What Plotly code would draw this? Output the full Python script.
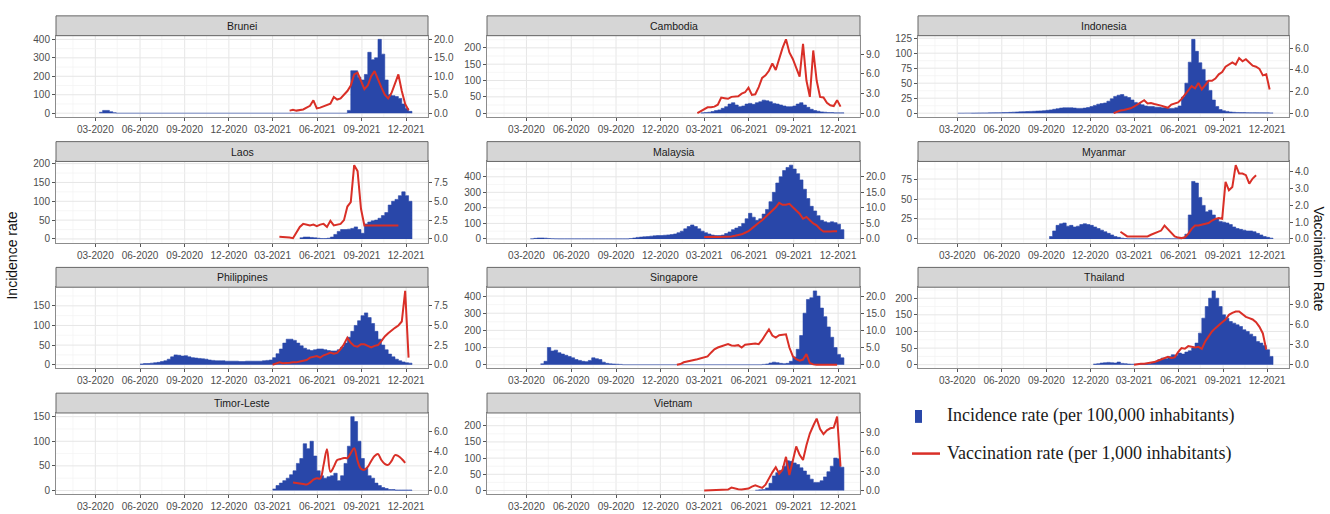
import pandas as pd
import plotly.graph_objects as go

countries = ["Brunei", "Cambodia", "Indonesia", "Laos", "Malaysia", "Myanmar",
             "Philippines", "Singapore", "Thailand", "Timor-Leste", "Vietnam"]

# ---------------- Incidence rate (per 100,000), weekly values ----------------
brunei_inc1_start = "2020-03-09"
brunei_inc1 = [5, 15, 15, 8, 3]
brunei_inc2_start = "2021-08-02"
brunei_inc2 = [15, 230, 230, 195, 180, 210, 330, 290, 300, 400, 320, 180, 100,
               95, 90, 80, 50, 25, 10]

cambodia_inc_start = "2021-02-22"
cambodia_inc = [1, 2, 3, 5, 8, 10, 15, 20, 28, 32, 25, 20, 22, 28, 30, 27, 32, 35, 40,
                38, 35, 30, 28, 25, 22, 20, 20, 22, 28, 32, 25, 18, 12, 8, 6, 4,
                3, 2, 2, 1, 1, 1]

indonesia_inc_start = "2020-03-02"
indonesia_inc = [0, 0, 0.1, 0.1, 0.2, 0.3, 0.4, 0.5, 0.5, 0.6, 0.7, 0.8, 0.9,
                 1, 1.2, 1.4, 1.7, 2, 2.2, 2.5, 2.8, 3, 3.2, 3.5, 3.8, 4.2, 4.8,
                 5.5, 6.5, 7.5, 8.5, 9, 9, 9, 8.5, 8, 8, 8.5, 9.5, 11, 13, 15, 16, 17,
                 20, 24, 28, 30, 31, 28, 26, 22, 18, 16, 14, 12, 11, 11, 10, 10, 9,
                 9, 8, 8, 9, 12, 27, 50, 85, 123, 103, 84, 73, 54, 38, 22, 11, 6, 4,
                 3, 2, 1.5, 1.2, 1, 1, 0.9, 0.8, 0.8, 0.7, 0.7, 0.6, 0.6, 0.5]

laos_inc_start = "2021-04-26"
laos_inc = [3, 5, 5, 4, 3, 2, 1, 1, 2, 5, 12, 20, 25, 25, 26, 28, 32, 25, 15,
            40, 45, 48, 50, 55, 62, 70, 90, 100, 105, 115, 125, 115, 100]

malaysia_inc_start = "2020-03-09"
malaysia_inc = [1, 4, 6, 6, 5, 3, 2, 1,
                0.5, 0.5, 0.5, 0.5, 0.5, 0.5, 0.5, 0.5, 0.5, 0.5, 0.5, 0.5, 0.5,
                0.5, 0.5, 0.5, 0.5, 0.5, 0.5, 0.5, 0.5,
                3, 6, 10, 12, 14, 15, 18, 20, 22, 22, 24, 26, 28, 32,
                40, 50, 65, 80, 90, 80, 65, 50, 40, 32, 25, 22, 22,
                25, 35, 45, 60, 70, 80, 100, 130, 165, 140, 120, 130, 160,
                190, 240, 300, 360, 400, 440, 460, 475, 450, 420, 380, 320, 260,
                210, 180, 150, 120, 110, 105, 110, 105, 95, 60]

myanmar_inc_start = "2020-09-07"
myanmar_inc = [3, 10, 17, 19, 20, 16, 17, 15, 16, 18, 19, 18, 17, 15, 13, 11, 9,
               7, 5, 3, 2, 1, 0.5, 0.3, 0.3,
               0.3, 0.3, 0.3, 0.3, 0.3, 0.3, 0.3, 0.3, 0.3, 0.3, 0.3, 0.3, 0.3, 0.3,
               2, 6, 30, 72, 70, 52, 42, 34, 36, 30, 25, 22, 21, 20, 18, 15, 13,
               12, 11, 10, 10, 9, 7, 5, 3, 2, 1]

philippines_inc_start = "2020-06-01"
philippines_inc = [2, 3, 3, 4, 5, 6, 8, 10, 14, 20, 25, 24, 22, 23, 20, 18, 17, 16,
                   15, 14, 12, 11, 10, 10, 10, 9, 9, 9, 9, 8, 8, 9, 9, 9, 9,
                   9, 10, 11, 12, 18, 28, 40, 55, 65, 65, 62, 55, 48,
                   42, 38, 36, 38, 40, 40, 38, 36, 35, 35, 38, 45, 55,
                   70, 85, 100, 112, 125, 132, 120, 105, 85, 65, 50, 38, 27,
                   20, 14, 10, 7, 5, 4]

singapore_inc1_start = "2020-03-30"
singapore_inc1 = [5, 20, 100, 80, 85, 70, 62, 55, 48, 40, 30, 25, 20, 18, 25, 40,
                  35, 30, 15, 8, 5, 4, 3, 2]
singapore_inc2_start = "2021-06-28"
singapore_inc2 = [2, 4, 10, 15, 12, 8, 6, 8, 20, 45, 90, 170, 300, 380, 390, 430,
                  400, 330, 280, 220, 160, 100, 60, 40]

thailand_inc_start = "2020-12-07"
thailand_inc = [2, 3, 5, 6, 7, 6, 5, 8, 4, 3, 2, 1.5, 1.5, 2, 2, 2, 3,
                5, 10, 15, 20, 18, 25, 30, 28, 35, 32, 38, 42, 50,
                65, 95, 140, 175, 200, 222, 200, 175, 150, 140, 130, 125, 120,
                115, 105, 100, 92, 85, 70, 65, 58, 45, 25]

timor_inc_start = "2021-03-01"
timor_inc = [3, 10, 15, 20, 25, 32, 40, 55, 65, 95, 85, 100, 70, 40,
             30, 25, 28, 30, 35, 20, 30, 55, 90, 150, 140, 100, 65,
             45, 30, 25, 15, 10, 6, 4, 2, 2, 1, 1, 1, 1, 1]

vietnam_inc_start = "2021-06-14"
vietnam_inc = [1, 2, 3, 8, 22, 45, 55, 62, 75, 92, 90, 85, 80, 70, 60, 48,
               35, 25, 25, 30, 42, 58, 75, 100, 98, 72]

# ---------------- Vaccination rate (per 1,000), weekly values ----------------
brunei_vacc_start = "2021-04-05"
brunei_vacc = [0.7, 0.9, 0.7, 0.9, 1.0, 1.5, 2.0, 3.5, 1.3, 1.5, 1.9, 2.3, 2.6,
               4.4, 3.7, 4.0, 5.0, 6.0, 7.5, 10.5, 11.0, 8.5, 6.5, 7.5, 10.0, 11.4,
               9.0, 7.0, 5.0, 4.0, 5.5, 8.0, 10.5, 6.0, 2.5, 0.8]

cambodia_vacc_start = "2021-02-15"
cambodia_vacc = [0.0, 0.3, 0.7, 0.9, 0.9, 1.0, 1.3, 2.4, 2.3, 2.2, 2.5, 2.5, 2.6,
                 3.0, 3.2, 3.9, 2.8, 2.9, 4.0, 5.4, 5.8, 6.5, 7.6, 6.6, 8.5, 10.0,
                 11.3, 9.3, 8.3, 7.0, 5.6, 10.6, 5.0, 2.5, 9.6, 5.0, 2.5, 2.4, 1.6,
                 1.2, 1.1, 2.0, 1.0]

indonesia_vacc_start = "2021-01-18"
indonesia_vacc = [0.0, 0.15, 0.25, 0.3, 0.35, 0.45, 0.6, 0.8, 1.0, 1.2, 0.9, 0.95,
                  0.85, 0.8, 0.7, 0.6, 0.5, 0.8, 0.9, 1.0, 1.3, 1.7, 2.2, 2.5, 2.3,
                  2.8, 2.2, 2.6, 3.0, 3.0, 3.2, 3.6, 3.8, 4.3, 4.5, 4.7, 4.5, 5.1,
                  4.8, 5.0, 4.7, 4.4, 4.3, 4.1, 3.5, 3.6, 2.2]

laos_vacc_start = "2021-03-15"
laos_vacc = [0.3, 0.3, 0.3, 0.2, 0.1, 0.8, 1.6, 2.0, 1.9, 1.8, 1.9, 1.7, 1.9, 2.0,
             1.6, 2.4, 1.8, 1.9, 2.0, 2.5, 4.3, 4.9, 9.8, 9.0, 4.0, 1.8, 1.8, 1.8,
             1.8, 1.8, 1.8, 1.8, 1.8, 1.8, 1.8, 1.8]

malaysia_vacc_start = "2021-03-01"
malaysia_vacc = [0.6, 0.7, 0.7, 0.7, 0.6, 0.6, 0.6, 0.7, 0.8, 1.0, 1.2, 1.5, 2.0,
                 2.5, 3.4, 4.4, 5.2, 6.0, 7.0, 8.1, 9.0, 10.2, 11.6, 11.0, 11.0,
                 11.3, 10.2, 9.0, 8.1, 6.5, 7.1, 6.0, 5.0, 4.4, 3.2, 2.4, 2.3, 2.4,
                 2.5, 2.5]

myanmar_vacc_start = "2021-02-01"
myanmar_vacc = [0.43, 0.3, 0.15, 0.14, 0.14, 0.15, 0.15, 0.15, 0.15, 0.25, 0.35,
                0.4, 0.5, 0.8, 0.6, 0.35, 0.15, 0.08, 0.05, 0.1, 0.3, 0.6, 0.8,
                0.8, 0.85, 0.87, 0.95, 1.1, 1.2, 1.25, 1.2, 3.4, 2.9, 3.1, 4.4,
                3.9, 3.9, 3.8, 3.3, 3.6, 3.8]

philippines_vacc_start = "2021-03-01"
philippines_vacc = [0.0, 0.2, 0.3, 0.2, 0.2, 0.25, 0.3, 0.3, 0.4, 0.5, 0.6, 0.9,
                    1.0, 1.1, 0.9, 1.2, 1.35, 1.55, 1.4, 1.5, 2.0, 2.6, 3.45, 2.8,
                    2.4, 2.3, 2.6, 2.6, 2.4, 2.2, 2.4, 2.5, 3.0, 3.6, 4.0, 4.4, 4.7,
                    5.0, 5.5, 9.4, 0.9]

singapore_vacc_start = "2021-01-04"
singapore_vacc = [0.0, 0.2, 0.7, 1.0, 1.2, 1.4, 1.6, 1.8, 2.2, 2.4, 3.5, 4.5, 5.0,
                  5.3, 5.8, 6.0, 5.6, 5.5, 5.7, 5.0, 5.8, 6.0, 6.2, 6.2, 6.0, 7.2,
                  8.8, 10.3, 8.5, 7.9, 8.6, 8.8, 8.85, 5.0, 2.5, 1.6, 1.2, 1.5, 3.1,
                  0.5, 0.1, 0.0, 0.0, 0.0, 0.0, 0.0, 0.0, 0.0]

thailand_vacc_start = "2021-03-01"
thailand_vacc = [0.0, 0.1, 0.15, 0.15, 0.2, 0.3, 0.4, 0.6, 0.8, 1.0, 1.2, 1.0, 1.1,
                 1.9, 2.5, 2.4, 2.8, 2.7, 2.6, 2.7, 2.4, 3.5, 4.3, 5.0, 5.5, 6.0,
                 6.4, 6.8, 7.5, 7.8, 8.0, 8.0, 7.6, 7.2, 7.0, 6.8, 6.4, 5.7, 4.7, 2.3]

timor_vacc_start = "2021-04-12"
timor_vacc = [0.8, 0.75, 0.7, 0.65, 0.6, 0.8, 1.1, 1.25, 1.2, 2.6, 4.2, 1.9, 2.4,
              3.1, 3.2, 3.3, 3.3, 3.8, 4.3, 3.0, 2.2, 2.1, 2.4, 3.0, 3.5, 3.7, 3.1,
              2.7, 2.6, 3.0, 3.6, 3.5, 3.2, 2.8]

vietnam_vacc_start = "2021-03-01"
vietnam_vacc = [0.0, 0.02, 0.05, 0.05, 0.08, 0.1, 0.12, 0.15, 0.45, 0.3, 0.2, 0.15,
                0.2, 0.3, 0.6, 0.8, 0.6, 0.4, 0.9, 1.9, 2.8, 3.6, 2.6, 3.2, 5.2,
                2.4, 4.5, 6.8, 5.5, 4.7, 7.0, 8.8, 10.0, 11.1, 9.5, 8.7, 9.3, 9.6,
                9.7, 11.4, 3.7]

# ---------------- Axis ticks and secondary-axis scale ----------------
x_tick_dates = ["2020-03-01", "2020-06-01", "2020-09-01", "2020-12-01",
                "2021-03-01", "2021-06-01", "2021-09-01", "2021-12-01"]
x_minor_dates = ["2020-01-15", "2020-04-15", "2020-07-16", "2020-10-16",
                 "2021-01-15", "2021-04-15", "2021-07-16", "2021-10-16",
                 "2022-01-15"]
left_ticks = {
    "Brunei": [0, 100, 200, 300, 400], "Cambodia": [0, 50, 100, 150, 200],
    "Indonesia": [0, 25, 50, 75, 100, 125], "Laos": [0, 50, 100, 150, 200],
    "Malaysia": [0, 100, 200, 300, 400], "Myanmar": [0, 25, 50, 75],
    "Philippines": [0, 50, 100, 150], "Singapore": [0, 100, 200, 300, 400],
    "Thailand": [0, 50, 100, 150, 200], "Timor-Leste": [0, 50, 100, 150],
    "Vietnam": [0, 50, 100, 150, 200]}
right_ticks = {
    "Brunei": [0, 5, 10, 15, 20], "Cambodia": [0, 3, 6, 9],
    "Indonesia": [0, 2, 4, 6], "Laos": [0, 2.5, 5, 7.5],
    "Malaysia": [0, 5, 10, 15, 20], "Myanmar": [0, 1, 2, 3, 4],
    "Philippines": [0, 2.5, 5, 7.5], "Singapore": [0, 5, 10, 15, 20],
    "Thailand": [0, 3, 6, 9], "Timor-Leste": [0, 2, 4, 6],
    "Vietnam": [0, 3, 6, 9]}
sec_factor = {"Brunei": 20, "Cambodia": 20, "Indonesia": 18, "Laos": 20,
              "Malaysia": 20, "Myanmar": 21, "Philippines": 20, "Singapore": 20,
              "Thailand": 20, "Timor-Leste": 20, "Vietnam": 20}
line_shape = {"Timor-Leste": "spline"}

inc_segments = {
    "Brunei": [(brunei_inc1_start, brunei_inc1), (brunei_inc2_start, brunei_inc2)],
    "Cambodia": [(cambodia_inc_start, cambodia_inc)],
    "Indonesia": [(indonesia_inc_start, indonesia_inc)],
    "Laos": [(laos_inc_start, laos_inc)],
    "Malaysia": [(malaysia_inc_start, malaysia_inc)],
    "Myanmar": [(myanmar_inc_start, myanmar_inc)],
    "Philippines": [(philippines_inc_start, philippines_inc)],
    "Singapore": [(singapore_inc1_start, singapore_inc1), (singapore_inc2_start, singapore_inc2)],
    "Thailand": [(thailand_inc_start, thailand_inc)],
    "Timor-Leste": [(timor_inc_start, timor_inc)],
    "Vietnam": [(vietnam_inc_start, vietnam_inc)],
}
vacc_series = {
    "Brunei": (brunei_vacc_start, brunei_vacc),
    "Cambodia": (cambodia_vacc_start, cambodia_vacc),
    "Indonesia": (indonesia_vacc_start, indonesia_vacc),
    "Laos": (laos_vacc_start, laos_vacc),
    "Malaysia": (malaysia_vacc_start, malaysia_vacc),
    "Myanmar": (myanmar_vacc_start, myanmar_vacc),
    "Philippines": (philippines_vacc_start, philippines_vacc),
    "Singapore": (singapore_vacc_start, singapore_vacc),
    "Thailand": (thailand_vacc_start, thailand_vacc),
    "Timor-Leste": (timor_vacc_start, timor_vacc),
    "Vietnam": (vietnam_vacc_start, vietnam_vacc),
}

# ---------------- Styling / layout ----------------
BLUE = "#2947a9"
RED = "#d92f27"
GRID = "#e6e6e6"
GRID_MINOR = "#f2f2f2"
BORDER = "#8c8c8c"
TICK = "#555555"
TXT = "#4d4d4d"
STRIP = "#d6d6d6"
STRIP_LINE = "#666666"
WEEK = pd.Timedelta(days=7)
X_RANGE = ["2019-12-11", "2022-01-15"]

W, H = 1330, 514
COLS = [(56, 428), (487, 860), (918, 1289)]
ROW_TOP = [13, 140, 267, 394]
STRIP_H, PLOT_H = 20, 82


def px_x(p):
    return p / W


def px_y(p):
    return 1 - p / H


fig = go.Figure()
shapes, annotations = [], []
axes = {}
tickfont = dict(size=10, color=TXT, family="Liberation Sans, Arial, sans-serif")

for i, name in enumerate(countries):
    k = i + 1
    r, c = divmod(i, 3)
    x0, x1 = COLS[c]
    st = ROW_TOP[r]
    pt = st + STRIP_H
    pb = pt + PLOT_H
    xname = "x" if k == 1 else f"x{k}"
    yl, yr = 2 * k - 1, 2 * k
    ylname = "y" if yl == 1 else f"y{yl}"
    yrname = f"y{yr}"

    # weekly incidence drawn as touching weekly columns (step outline filled to 0)
    xs, ys = [], []
    for start, vals in inc_segments[name]:
        d = pd.date_range(start, periods=len(vals), freq="7D")
        xs += list(d) + [d[-1] + WEEK]
        ys += list(vals) + [0]
    fig.add_trace(go.Scatter(x=xs, y=ys, mode="lines",
                             line=dict(color=BLUE, width=0.6, shape="hv"),
                             fill="tozeroy", fillcolor=BLUE,
                             xaxis=xname, yaxis=ylname, showlegend=False,
                             name="Incidence rate"))
    vs, vv = vacc_series[name]
    vd = pd.date_range(vs, periods=len(vv), freq="7D")
    fig.add_trace(go.Scatter(x=vd, y=vv, mode="lines",
                             line=dict(color=RED, width=2,
                                       shape=line_shape.get(name, "linear")),
                             xaxis=xname, yaxis=yrname, showlegend=False,
                             name="Vaccination rate"))

    f = sec_factor[name]
    M = max(max(ys), f * max(vv))
    lo, hi = -0.05 * M, 1.05 * M
    lt, rt = left_ticks[name], right_ticks[name]
    step = lt[1] - lt[0]
    minor_vals = [t - step / 2 for t in lt] + [lt[-1] + step / 2]

    # gridlines drawn beneath the data
    for dv in x_minor_dates:
        shapes.append(dict(type="line", layer="below", xref=xname, yref=f"{ylname} domain",
                           x0=dv, x1=dv, y0=0, y1=1,
                           line=dict(color=GRID_MINOR, width=0.7)))
    for dv in x_tick_dates:
        shapes.append(dict(type="line", layer="below", xref=xname, yref=f"{ylname} domain",
                           x0=dv, x1=dv, y0=0, y1=1,
                           line=dict(color=GRID, width=1)))
    for yv in minor_vals:
        if lo < yv < hi:
            shapes.append(dict(type="line", layer="below", xref=f"{xname} domain", yref=ylname,
                               x0=0, x1=1, y0=yv, y1=yv,
                               line=dict(color=GRID_MINOR, width=0.7)))
    for yv in lt:
        shapes.append(dict(type="line", layer="below", xref=f"{xname} domain", yref=ylname,
                           x0=0, x1=1, y0=yv, y1=yv,
                           line=dict(color=GRID, width=1)))

    axes["xaxis" if k == 1 else f"xaxis{k}"] = dict(
        domain=[px_x(x0), px_x(x1)], anchor=ylname, type="date", range=X_RANGE,
        tickmode="array", tickvals=x_tick_dates, tickformat="%m-%Y",
        showgrid=False,
        showline=True, linecolor=BORDER, linewidth=1, mirror=True,
        ticks="outside", ticklen=3, tickcolor=TICK, tickfont=tickfont,
        zeroline=False, fixedrange=True)
    axes["yaxis" if yl == 1 else f"yaxis{yl}"] = dict(
        domain=[px_y(pb), px_y(pt)], anchor=xname, range=[lo, hi],
        tickmode="array", tickvals=lt, ticktext=[str(t) for t in lt],
        showgrid=False,
        showline=True, linecolor=BORDER, linewidth=1, mirror=True,
        ticks="outside", ticklen=3, tickcolor=TICK, tickfont=tickfont,
        zeroline=False, fixedrange=True)
    axes[f"yaxis{yr}"] = dict(
        overlaying=ylname, side="right", anchor=xname, range=[lo / f, hi / f],
        tickmode="array", tickvals=rt, ticktext=[f"{t:.1f}" for t in rt],
        showgrid=False, showline=False, ticks="outside", ticklen=3,
        tickcolor=TICK, tickfont=tickfont, zeroline=False, fixedrange=True)

    shapes.append(dict(type="rect", xref="paper", yref="paper",
                       x0=px_x(x0), x1=px_x(x1), y0=px_y(pt), y1=px_y(st),
                       fillcolor=STRIP, line=dict(color=STRIP_LINE, width=1),
                       layer="above"))
    annotations.append(dict(text=name, xref="paper", yref="paper",
                            x=px_x((x0 + x1) / 2), y=px_y(st + STRIP_H / 2),
                            showarrow=False, xanchor="center", yanchor="middle",
                            font=dict(size=10.5, color="#1a1a1a")))

# axis titles
annotations.append(dict(text="Incidence rate", xref="paper", yref="paper",
                        x=px_x(12), y=px_y(255), textangle=-90, showarrow=False,
                        xanchor="center", yanchor="middle",
                        font=dict(size=14, color="#111111")))
annotations.append(dict(text="Vaccination Rate", xref="paper", yref="paper",
                        x=px_x(1319), y=px_y(258), textangle=90, showarrow=False,
                        xanchor="center", yanchor="middle",
                        font=dict(size=14, color="#111111")))

# legend (drawn manually)
legend_font = dict(size=18, color="#1a1a1a", family="Liberation Serif, Times New Roman, serif")
shapes.append(dict(type="rect", xref="paper", yref="paper",
                   x0=px_x(915), x1=px_x(922), y0=px_y(424), y1=px_y(411),
                   fillcolor=BLUE, line=dict(width=0)))
shapes.append(dict(type="line", xref="paper", yref="paper",
                   x0=px_x(912), x1=px_x(940), y0=px_y(455), y1=px_y(455),
                   line=dict(color=RED, width=2.5)))
annotations.append(dict(text="Incidence rate (per 100,000 inhabitants)",
                        xref="paper", yref="paper", x=px_x(945), y=px_y(417),
                        showarrow=False, xanchor="left", yanchor="middle",
                        font=legend_font))
annotations.append(dict(text="Vaccination rate (per 1,000 inhabitants)",
                        xref="paper", yref="paper", x=px_x(945), y=px_y(455),
                        showarrow=False, xanchor="left", yanchor="middle",
                        font=legend_font))

fig.update_layout(width=W, height=H, margin=dict(l=0, r=0, t=0, b=0),
                  paper_bgcolor="white", plot_bgcolor="white",
                  font=dict(family="Liberation Sans, Arial, sans-serif"),
                  shapes=shapes, annotations=annotations, **axes)

fig.write_html("out.html", config={"displayModeBar": False},
               post_script="document.body.style.margin='0';document.body.style.padding='0';")
